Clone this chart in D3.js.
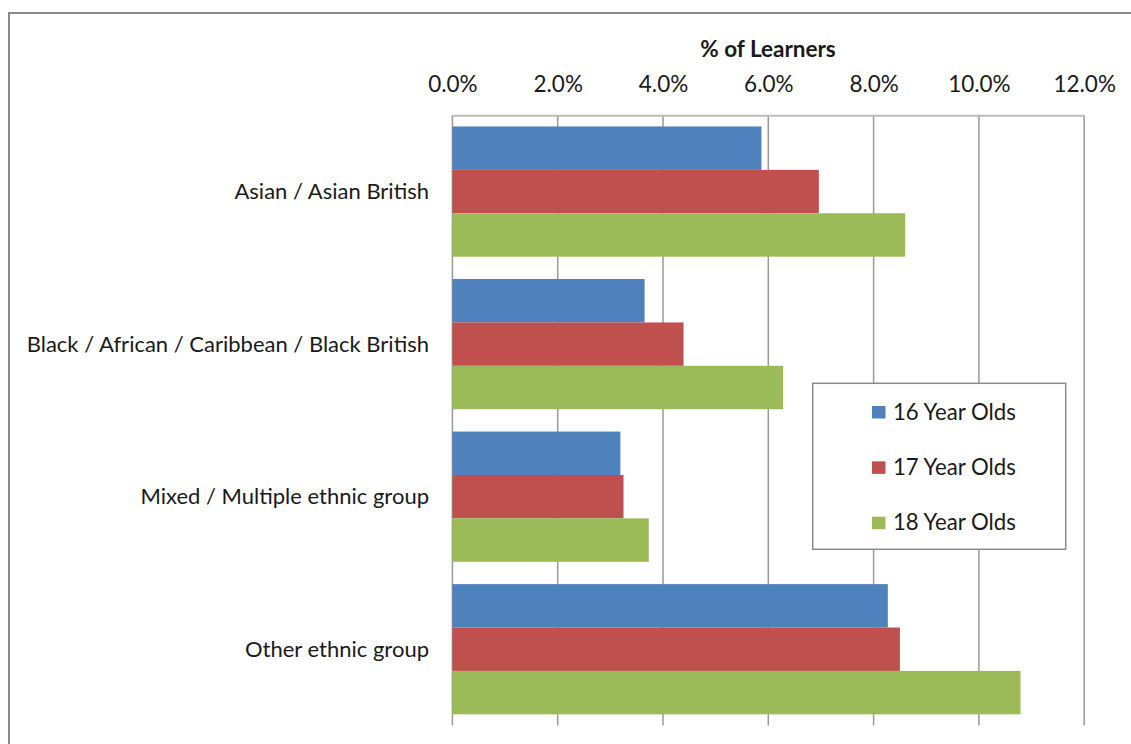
<!DOCTYPE html>
<html>
<head>
<meta charset="utf-8">
<script src="https://cdn.jsdelivr.net/npm/d3@7.9.0/dist/d3.min.js"></script>
<style>
  body { margin: 0; background: #fff; }
  text { font-family: Lato, "Open Sans", sans-serif; fill: #1a1a1a; }
</style>
</head>
<body>
<svg id="chart" width="1131" height="744"></svg>
<script>
// Chart data
const categories = [
  "Asian / Asian British",
  "Black / African / Caribbean / Black British",
  "Mixed / Multiple ethnic group",
  "Other ethnic group"
];
const seriesNames = ["16 Year Olds", "17 Year Olds", "18 Year Olds"];
const values16 = [0.0587, 0.0365, 0.0319, 0.0827];
const values17 = [0.0696, 0.0439, 0.0325, 0.0850];
const values18 = [0.0860, 0.0628, 0.0373, 0.1079];
const tickValues = [0, 0.02, 0.04, 0.06, 0.08, 0.10, 0.12];
const colors = ["#4F81BD", "#C0504D", "#9BBB59"];

const seriesValues = [values16, values17, values18];

const svg = d3.select("#chart");

// outer chart frame (runs off the right / bottom edge)
svg.append("rect")
  .attr("x", 9).attr("y", 13)
  .attr("width", 1140).attr("height", 760)
  .attr("fill", "none")
  .attr("stroke", "#8a8a8a")
  .attr("stroke-width", 2);

// scales
const x = d3.scaleLinear().domain([0, 0.12]).range([452.4, 1084.2]);
const y = d3.scaleBand().domain(categories).range([115.3, 725.5])
  .paddingInner(0.1465).paddingOuter(0.1465 / 2);
const y1 = d3.scaleBand().domain(seriesNames).range([0, y.bandwidth()]);

// gridlines
svg.append("g")
  .selectAll("line")
  .data(tickValues)
  .join("line")
  .attr("x1", d => x(d)).attr("x2", d => x(d))
  .attr("y1", 115.3).attr("y2", 725.5)
  .attr("stroke", "#9a9a9a")
  .attr("stroke-width", 1.5);

// bars
categories.forEach((cat, i) => {
  const g = svg.append("g").attr("transform", `translate(0,${y(cat)})`);
  g.selectAll("rect")
    .data(seriesNames.map((s, j) => ({ s, v: seriesValues[j][i], c: colors[j] })))
    .join("rect")
    .attr("x", x(0))
    .attr("y", d => y1(d.s))
    .attr("width", d => x(d.v) - x(0))
    .attr("height", y1.bandwidth())
    .attr("fill", d => d.c);
});

// top axis
const axis = svg.append("g")
  .attr("transform", "translate(0,115.3)")
  .call(d3.axisTop(x).tickValues(tickValues).tickFormat(d3.format(".1%"))
    .tickSize(0).tickPadding(23));
axis.select(".domain").attr("stroke", "#bdbdbd").attr("stroke-width", 2);
axis.selectAll("text")
  .style("font-family", "Lato, sans-serif")
  .style("font-size", "22.5px")
  .attr("fill", "#1a1a1a");

// axis title
svg.append("text")
  .attr("x", 768).attr("y", 56.7)
  .attr("text-anchor", "middle")
  .style("font-size", "22.5px")
  .style("font-weight", "bold")
  .text("% of Learners");

// category labels
svg.append("g")
  .selectAll("text")
  .data(categories)
  .join("text")
  .attr("x", 429)
  .attr("y", d => y(d) + y.bandwidth() / 2)
  .attr("dy", "0.35em")
  .attr("text-anchor", "end")
  .style("font-size", "22px")
  .text(d => d);

// legend
const legend = svg.append("g");
legend.append("rect")
  .attr("x", 812.7).attr("y", 383.3)
  .attr("width", 253).attr("height", 166)
  .attr("fill", "#fff")
  .attr("stroke", "#8a8a8a")
  .attr("stroke-width", 1.5);

const rowY = d3.scalePoint().domain(seriesNames).range([412, 522.7]);
seriesNames.forEach((s, j) => {
  legend.append("rect")
    .attr("x", 872).attr("y", rowY(s) - 6)
    .attr("width", 13.5).attr("height", 12.5)
    .attr("fill", colors[j]);
  legend.append("text")
    .attr("x", 893).attr("y", rowY(s))
    .attr("dy", "0.35em")
    .style("font-size", "22.2px")
    .text(s);
});
</script>
</body>
</html>
